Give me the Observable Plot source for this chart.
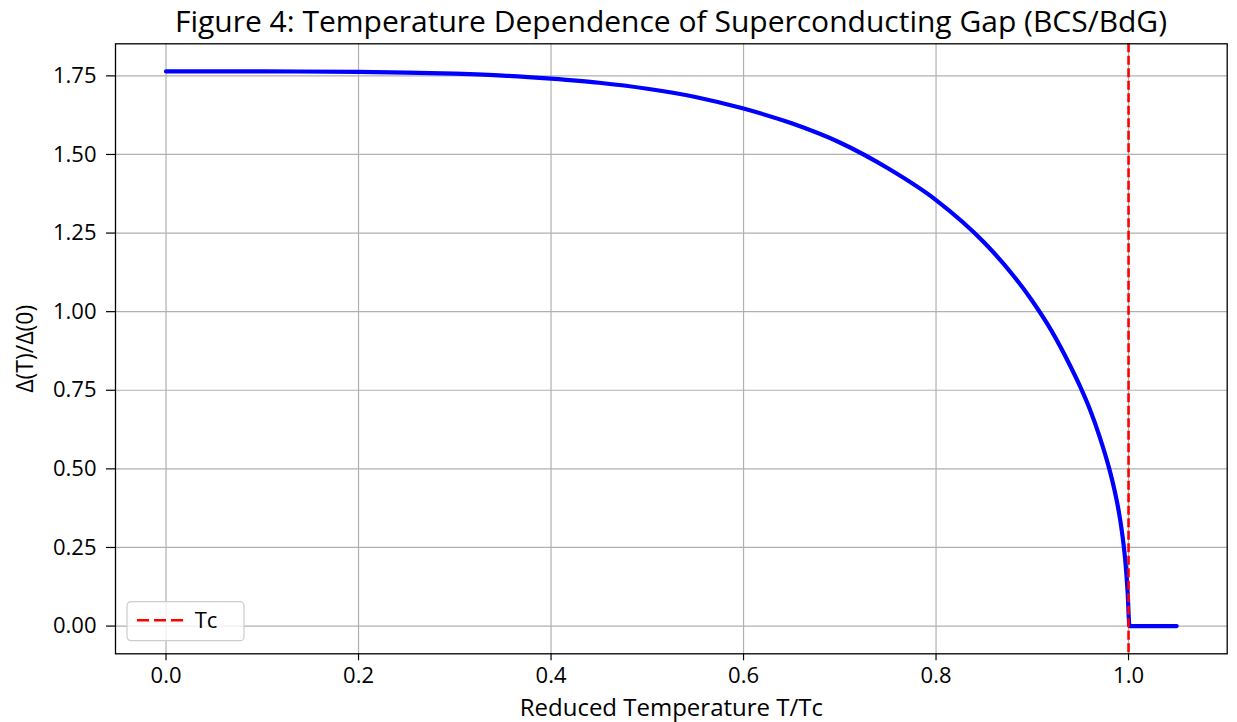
<!DOCTYPE html>
<html><head><meta charset="utf-8">
<script src="https://cdn.jsdelivr.net/npm/d3@7"></script>
<script src="https://cdn.jsdelivr.net/npm/@observablehq/plot@0.6"></script>
<style>
body{margin:0;background:#fff;font-family:"Open Sans",sans-serif;}
#title{margin-left:115px;width:1112px;height:40px;line-height:40px;padding-top:1px;box-sizing:border-box;text-align:center;font-size:30px;color:#000;white-space:nowrap;}
#chart svg{display:block;}
</style></head><body>
<div id="title">Figure 4: Temperature Dependence of Superconducting Gap (BCS/BdG)</div>
<div id="chart"></div>
<script>
// Reduced temperature T/Tc and gap values
const temperature = [0, 0.1, 0.2, 0.3, 0.35, 0.4, 0.45, 0.5, 0.55, 0.6, 0.65, 0.7, 0.75, 0.8, 0.85, 0.88, 0.9, 0.92, 0.94, 0.95, 0.96, 0.97, 0.98, 0.985, 0.99, 0.994, 0.997, 0.999, 1.001, 1.02, 1.05];
const gap = [1.764, 1.764, 1.763, 1.757, 1.751, 1.741, 1.728, 1.709, 1.683, 1.646, 1.599, 1.538, 1.456, 1.355, 1.220, 1.116, 1.034, 0.939, 0.824, 0.760, 0.688, 0.602, 0.500, 0.438, 0.362, 0.280, 0.195, 0.110, 0, 0, 0];
const criticalTemp = [1.0];
const xTicks = [0.0, 0.2, 0.4, 0.6, 0.8, 1.0];
const yTicks = [0.00, 0.25, 0.50, 0.75, 1.00, 1.25, 1.50, 1.75];
const legendLabel = "Tc";
const xLabel = "Reduced Temperature T/Tc";
const yLabel = "Δ(T)/Δ(0)";

const data = temperature.map((t, i) => ({t, g: gap[i]}));

const plot = Plot.plot({
  width: 1237, height: 682,
  marginLeft: 115, marginRight: 10.3, marginTop: 3.3, marginBottom: 68.7,
  x: {domain: [-0.0525, 1.1025]},
  y: {domain: [-0.0882, 1.852]},
  style: {fontFamily: "Open Sans, sans-serif", fontSize: "22px", background: "#fff", color: "#000"},
  marks: [
    Plot.gridX(xTicks, {stroke: "#b0b0b0", strokeOpacity: 1, strokeWidth: 1.2}),
    Plot.gridY(yTicks, {stroke: "#b0b0b0", strokeOpacity: 1, strokeWidth: 1.2}),
    Plot.line(data, {x: "t", y: "g", stroke: "#0000ff", strokeWidth: 4.2, curve: "monotone-x"}),
    Plot.ruleX(criticalTemp, {stroke: "#ff0000", strokeWidth: 2.6, strokeDasharray: "9,3.5"}),
    Plot.frame({stroke: "#000", strokeWidth: 1.3}),
    Plot.axisX(xTicks, {tickFormat: d => d.toFixed(1), tickSize: 7, tickPadding: 7, fontSize: 22, label: null, strokeWidth: 1.2}),
    Plot.axisY(yTicks, {tickFormat: d => d.toFixed(2), tickSize: 9, tickPadding: 10, fontSize: 22, label: null, strokeWidth: 1.2}),
    Plot.text([xLabel], {frameAnchor: "bottom", dy: 55, fontSize: 24, textAnchor: "middle", lineAnchor: "middle"}),
    Plot.text([yLabel], {frameAnchor: "left", dx: -90, rotate: -90, fontSize: 23, textAnchor: "middle", lineAnchor: "middle"})
  ]
});
document.getElementById("chart").appendChild(plot);

// legend (lower left, matplotlib style)
const svg = d3.select(plot);
const lg = svg.append("g").attr("transform", "translate(127,561.7)");
lg.append("rect").attr("width", 117).attr("height", 39).attr("rx", 4)
  .attr("fill", "#fff").attr("fill-opacity", 0.8).attr("stroke", "#cccccc").attr("stroke-width", 1.2);
lg.append("line").attr("x1", 10).attr("x2", 60).attr("y1", 18.5).attr("y2", 18.5)
  .attr("stroke", "#ff0000").attr("stroke-width", 2.6).attr("stroke-dasharray", "12,5");
lg.append("text").attr("x", 79).attr("y", 19).attr("dy", "0.35em")
  .attr("font-family", "Open Sans, sans-serif").attr("font-size", 22).attr("fill", "#000").text(legendLabel);
</script>
</body></html>
